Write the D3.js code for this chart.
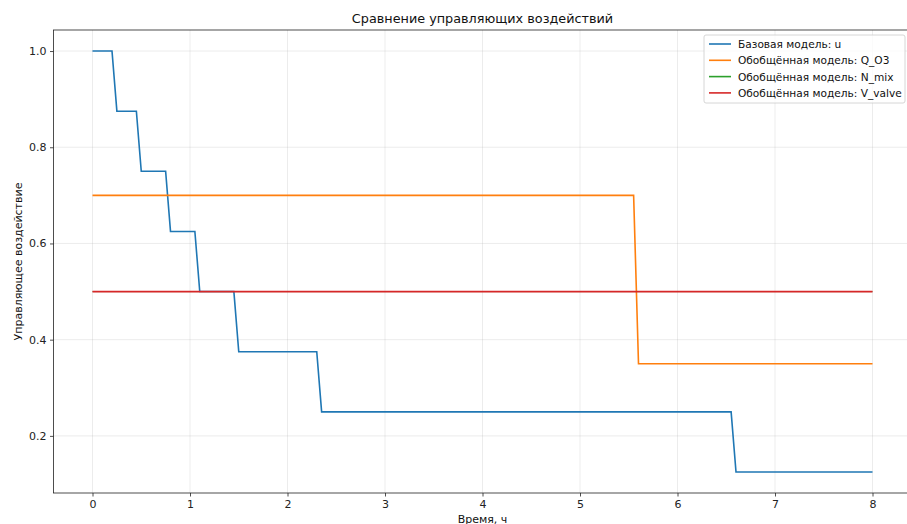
<!DOCTYPE html>
<html lang="ru">
<head>
<meta charset="utf-8">
<title>Сравнение управляющих воздействий</title>
<script src="https://d3js.org/d3.v7.min.js"></script>
<style>
  body { margin: 0; background: #fff; }
  svg { display: block; font-family: "DejaVu Sans", sans-serif; }
</style>
</head>
<body>
<div id="chart"></div>
<script>
// Data (time in hours, value)
var baseTime  = [0, 0.2, 0.25, 0.45, 0.5, 0.75, 0.8, 1.05, 1.1, 1.45, 1.5, 2.3, 2.35, 6.55, 6.6, 8];
var baseU     = [1, 1, 0.875, 0.875, 0.75, 0.75, 0.625, 0.625, 0.5, 0.5, 0.375, 0.375, 0.25, 0.25, 0.125, 0.125];
var qTime     = [0, 5.55, 5.6, 8];
var qO3       = [0.7, 0.7, 0.35, 0.35];
var nTime     = [0, 8];
var nMix      = [0.5, 0.5];
var vTime     = [0, 8];
var vValve    = [0.5, 0.5];
var seriesNames = ["Базовая модель: u", "Обобщённая модель: Q_O3", "Обобщённая модель: N_mix", "Обобщённая модель: V_valve"];
var seriesColors = ["#1f77b4", "#ff7f0e", "#2ca02c", "#d62728"];
var xTicks = [0, 1, 2, 3, 4, 5, 6, 7, 8];
var yTicks = [0.2, 0.4, 0.6, 0.8, 1.0];

var width = 907, height = 524;
var plotLeft = 53.5, plotRight = 911.5, plotTop = 30, plotBottom = 493;

var svg = d3.select("#chart").append("svg")
    .attr("width", width)
    .attr("height", height);

var x = d3.scaleLinear().domain([-0.4, 8.4]).range([plotLeft, plotRight]);
var y = d3.scaleLinear().domain([0.08125, 1.04375]).range([plotBottom, plotTop]);

// Grid
svg.append("g").selectAll("line").data(xTicks).enter().append("line")
    .attr("x1", d => x(d)).attr("x2", d => x(d))
    .attr("y1", plotTop).attr("y2", plotBottom)
    .attr("stroke", "#b0b0b0").attr("stroke-opacity", 0.3).attr("stroke-width", 0.8);
svg.append("g").selectAll("line").data(yTicks).enter().append("line")
    .attr("x1", plotLeft).attr("x2", plotRight)
    .attr("y1", d => y(d)).attr("y2", d => y(d))
    .attr("stroke", "#b0b0b0").attr("stroke-opacity", 0.3).attr("stroke-width", 0.8);

// Lines (green sits exactly under red, keep it thinner so it does not tint the edges)
var series = [
    { t: baseTime, v: baseU, w: 1.6 },
    { t: qTime, v: qO3, w: 1.6 },
    { t: nTime, v: nMix, w: 0.8 },
    { t: vTime, v: vValve, w: 1.8 }
];
var line = d3.line().x(d => x(d[0])).y(d => y(d[1]));
series.forEach(function(s, i) {
    var pts = s.t.map(function(t, k) { return [t, s.v[k]]; });
    svg.append("path")
        .datum(pts)
        .attr("d", line)
        .attr("fill", "none")
        .attr("stroke", seriesColors[i])
        .attr("stroke-width", s.w);
});

// Axes
var xAxis = svg.append("g")
    .attr("transform", "translate(0," + plotBottom + ")")
    .call(d3.axisBottom(x).tickValues(xTicks).tickFormat(d3.format("d")).tickSize(3.5).tickPadding(3.5));
var yAxis = svg.append("g")
    .attr("transform", "translate(" + plotLeft + ",0)")
    .call(d3.axisLeft(y).tickValues(yTicks).tickFormat(d3.format(".1f")).tickSize(3.5).tickPadding(3.5));
[xAxis, yAxis].forEach(function(a) {
    a.select(".domain").remove();
    a.selectAll("text").attr("font-size", 11).attr("fill", "#222").attr("font-family", "DejaVu Sans");
    a.selectAll("line").attr("stroke", "#222").attr("stroke-width", 0.8);
});

// Frame
svg.append("rect")
    .attr("x", plotLeft).attr("y", plotTop)
    .attr("width", plotRight - plotLeft).attr("height", plotBottom - plotTop)
    .attr("fill", "none").attr("stroke", "#222").attr("stroke-width", 0.8);

// Labels
svg.append("text")
    .attr("x", (plotLeft + plotRight) / 2).attr("y", 23)
    .attr("text-anchor", "middle").attr("font-size", 12.8).attr("fill", "#111")
    .text("Сравнение управляющих воздействий");
svg.append("text")
    .attr("x", (plotLeft + plotRight) / 2).attr("y", 523)
    .attr("text-anchor", "middle").attr("font-size", 11).attr("fill", "#111")
    .text("Время, ч");
svg.append("text")
    .attr("transform", "translate(22," + ((plotTop + plotBottom) / 2) + ") rotate(-90)")
    .attr("text-anchor", "middle").attr("font-size", 11).attr("fill", "#111")
    .text("Управляющее воздействие");

// Legend
var legend = svg.append("g").attr("transform", "translate(704,35)");
legend.append("rect")
    .attr("width", 201).attr("height", 68).attr("rx", 2)
    .attr("fill", "#fff").attr("fill-opacity", 0.8)
    .attr("stroke", "#ccc").attr("stroke-width", 0.8);
seriesNames.forEach(function(name, i) {
    var row = legend.append("g").attr("transform", "translate(0," + (9 + i * 16.3) + ")");
    row.append("line")
        .attr("x1", 5).attr("x2", 27)
        .attr("stroke", seriesColors[i]).attr("stroke-width", 1.6);
    row.append("text")
        .attr("x", 34).attr("y", 4)
        .attr("font-size", 10.6).attr("fill", "#111")
        .text(name);
});
</script>
</body>
</html>
